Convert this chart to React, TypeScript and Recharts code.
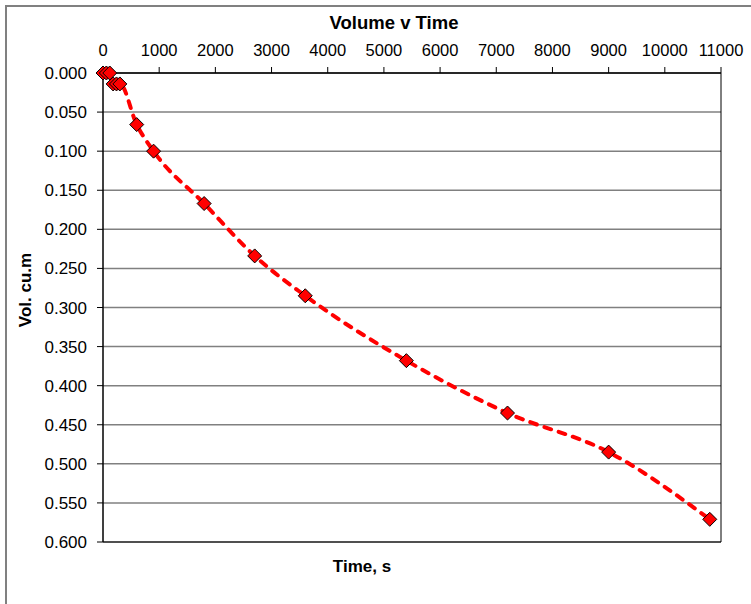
import React from "react";
import {
  ComposedChart,
  Line,
  XAxis,
  YAxis,
  CartesianGrid,
  ReferenceArea,
} from "recharts";

const timeValues = [0, 60, 120, 180, 240, 300, 600, 900, 1800, 2700, 3600, 5400, 7200, 9000, 10800];
const volumeValues = [0, 0, 0, 0.014, 0.014, 0.014, 0.066, 0.1, 0.167, 0.234, 0.285, 0.368, 0.435, 0.485, 0.571];
const xTicks = [0, 1000, 2000, 3000, 4000, 5000, 6000, 7000, 8000, 9000, 10000, 11000];
const yTicks = [0, 0.05, 0.1, 0.15, 0.2, 0.25, 0.3, 0.35, 0.4, 0.45, 0.5, 0.55, 0.6];

const data = timeValues.map((t, i) => ({ time: t, vol: volumeValues[i] }));

const FONT = "'Liberation Sans', Arial, sans-serif";

const Diamond = (props: any) => {
  const { cx, cy } = props;
  if (cx == null || cy == null) return null;
  const r = 7;
  return (
    <path
      d={`M${cx},${cy - r} L${cx + r},${cy} L${cx},${cy + r} L${cx - r},${cy} Z`}
      fill="#FF0000"
      stroke="#000"
      strokeWidth={1}
    />
  );
};

export default function App() {
  return (
    <div
      style={{
        position: "absolute",
        left: 0,
        top: 0,
        width: 751,
        height: 604,
        overflow: "hidden",
        background: "#fff",
      }}
    >
      <div
        style={{
          position: "absolute",
          left: 5,
          top: 5,
          width: 800,
          height: 700,
          border: "2px solid #808080",
          boxSizing: "border-box",
        }}
      />
      <div style={{ position: "absolute", left: 0, top: 0 }}>
        <ComposedChart
          width={751}
          height={604}
          data={data}
          margin={{ top: 43, right: 30, bottom: 62, left: 20 }}
        >
          <CartesianGrid vertical={false} stroke="#808080" strokeWidth={1.5} />
          <XAxis
            dataKey="time"
            type="number"
            orientation="top"
            domain={[0, 11000]}
            ticks={xTicks}
            height={30}
            tickSize={6}
            tickMargin={11}
            axisLine={{ stroke: "#000" }}
            tickLine={{ stroke: "#000" }}
            tick={{ fill: "#000", fontSize: 16.5, fontFamily: FONT }}
            interval={0}
          />
          <YAxis
            dataKey="vol"
            type="number"
            reversed
            domain={[0, 0.6]}
            ticks={yTicks}
            width={83}
            tickSize={6}
            tickMargin={10}
            axisLine={{ stroke: "#000" }}
            tickLine={{ stroke: "#000" }}
            tick={{ fill: "#000", fontSize: 17, fontFamily: FONT }}
            tickFormatter={(v: number) => v.toFixed(3)}
            interval={0}
          />
          <ReferenceArea
            x1={0}
            x2={11000}
            y1={0}
            y2={0.6}
            fill="none"
            stroke="#000"
            strokeWidth={1}
            ifOverflow="visible"
          />
          <Line
            type="monotone"
            dataKey="vol"
            stroke="#FF0000"
            strokeWidth={4}
            strokeDasharray="7 8"
            strokeLinecap="round"
            dot={<Diamond />}
            activeDot={false}
            isAnimationActive={false}
          />
        </ComposedChart>
      </div>
      <svg
        width={751}
        height={604}
        style={{ position: "absolute", left: 0, top: 0, pointerEvents: "none" }}
      >
        <text
          x={394}
          y={29}
          textAnchor="middle"
          fontFamily={FONT}
          fontWeight="bold"
          fontSize={18.5}
          fill="#000"
        >
          Volume v Time
        </text>
        <text
          x={362}
          y={572}
          textAnchor="middle"
          fontFamily={FONT}
          fontWeight="bold"
          fontSize={17}
          fill="#000"
        >
          Time, s
        </text>
        <text
          x={31}
          y={290}
          textAnchor="middle"
          fontFamily={FONT}
          fontWeight="bold"
          fontSize={17}
          fill="#000"
          transform="rotate(-90 31 290)"
        >
          Vol. cu.m
        </text>
      </svg>
    </div>
  );
}
